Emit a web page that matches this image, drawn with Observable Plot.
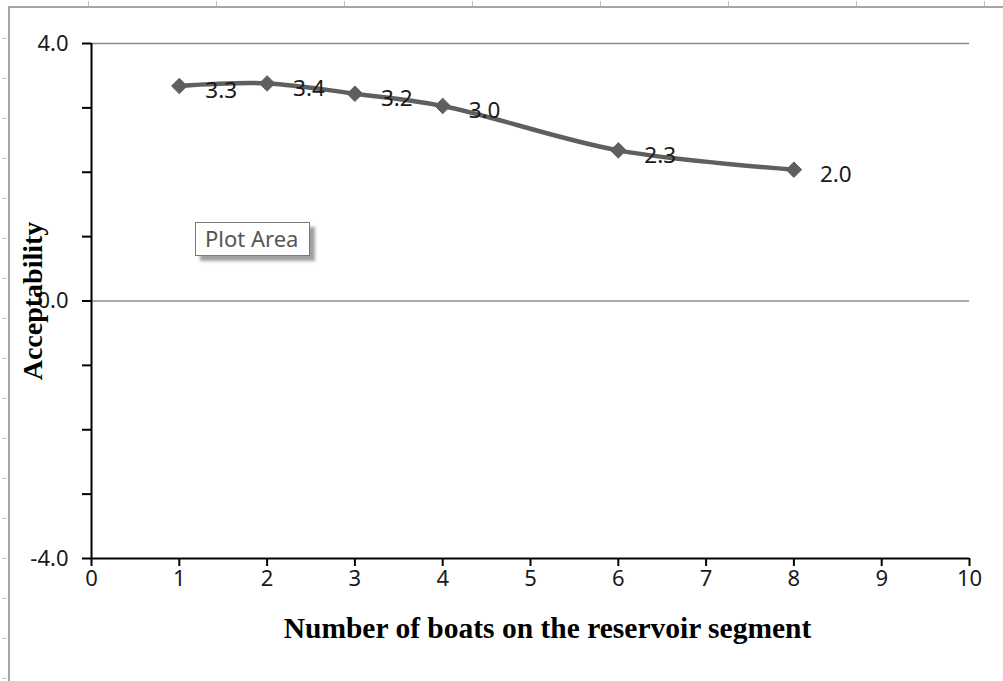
<!DOCTYPE html>
<html>
<head>
<meta charset="utf-8">
<script src="https://cdn.jsdelivr.net/npm/d3@7"></script>
<script src="https://cdn.jsdelivr.net/npm/@observablehq/plot@0.6"></script>
<style>
  html, body { margin: 0; padding: 0; background: #fff; }
  #wrap { position: relative; width: 1003px; height: 681px; overflow: hidden; }
  #frameTop { position: absolute; left: 9px; top: 6px; width: 994px; height: 2px; background: #a6a6a6; }
  #frameTopTicks { position: absolute; left: 88px; top: 1px; width: 915px; height: 5px;
    background: repeating-linear-gradient(to right, #c0c0c0 0 1px, transparent 1px 128px); }
  #frameLeft { position: absolute; left: 8px; top: 6px; width: 2px; height: 675px; background: #a6a6a6; }
  #frameLeftTicks { position: absolute; left: 2px; top: 38px; width: 5px; height: 643px;
    background: repeating-linear-gradient(to bottom, #c8c8c8 0 1px, transparent 1px 40px); }
  #chart { position: absolute; left: 0; top: 0; }
  #tip { position: absolute; left: 195px; top: 222px; width: 115px; height: 34px; box-sizing: border-box;
    border: 1px solid #7a7a7a; background: #fff; box-shadow: 5px 5px 3px #a0a0a0;
    font: 22px "Noto Sans", "Open Sans", sans-serif; color: #555; line-height: 31px; padding-left: 9px; white-space: nowrap; }
</style>
</head>
<body>
<div id="wrap">
  <div id="frameTop"></div>
  <div id="frameTopTicks"></div>
  <div id="frameLeft"></div>
  <div id="frameLeftTicks"></div>
  <div id="chart"></div>
  <div id="tip">Plot Area</div>
</div>
<script>
// Data
const boats = [1, 2, 3, 4, 6, 8];
const acceptability = [3.34, 3.38, 3.22, 3.03, 2.34, 2.04];
const xTicks = [0, 1, 2, 3, 4, 5, 6, 7, 8, 9, 10];
const yTicks = [-4, -3, -2, -1, 0, 1, 2, 3, 4];
const yLabelled = [-4, 0, 4];
const xTitle = "Number of boats on the reservoir segment";
const yTitle = "Acceptability";

const data = boats.map((b, i) => ({x: b, y: acceptability[i]}));
const serif = "'Liberation Serif', 'Times New Roman', serif";
const sans = "'Noto Sans', 'Open Sans', sans-serif";

const chart = Plot.plot({
  width: 1003,
  height: 681,
  marginLeft: 91,
  marginRight: 34,
  marginTop: 43,
  marginBottom: 123,
  style: {fontFamily: sans, fontSize: "22px", color: "#1a1a1a", background: "transparent"},
  x: {domain: [0, 10]},
  y: {domain: [-4, 4]},
  marks: [
    Plot.ruleY([4, 0], {stroke: "#8c8c8c", strokeWidth: 1.5}),
    Plot.axisX({ticks: xTicks, tickSize: 8, tickPadding: 4, tickFormat: d => String(d),
      stroke: "#000", strokeWidth: 2, label: null, fontSize: 22}),
    Plot.axisY({ticks: yTicks, tickSize: 9, tickPadding: 14,
      tickFormat: d => yLabelled.includes(d) ? d.toFixed(1) : "",
      stroke: "#000", strokeWidth: 2, label: null, fontSize: 22}),
    Plot.ruleX([0], {stroke: "#000", strokeWidth: 2}),
    Plot.ruleY([-4], {stroke: "#000", strokeWidth: 2}),
    Plot.line(data, {x: "x", y: "y", curve: "catmull-rom", stroke: "#5f5f5f", strokeWidth: 4.5}),
    Plot.dot(data, {x: "x", y: "y", symbol: "diamond2", r: 7, fill: "#5f5f5f", stroke: "#5f5f5f", strokeWidth: 1}),
    Plot.text(data, {x: "x", y: "y", text: d => d.y.toFixed(1), textAnchor: "start", dx: 26, dy: 5,
      fontSize: 22.5, fill: "#1a1a1a", fontFamily: sans}),
    Plot.text([xTitle], {frameAnchor: "bottom", textAnchor: "middle", lineAnchor: "middle", dy: 70, dx: 17,
      fontSize: 29.5, fontWeight: "bold", fontFamily: serif, fill: "#000"}),
    Plot.text([yTitle], {frameAnchor: "left", textAnchor: "middle", lineAnchor: "middle", dx: -58, rotate: -90,
      fontSize: 28, fontWeight: "bold", fontFamily: serif, fill: "#000"})
  ]
});
document.getElementById("chart").appendChild(chart);
</script>
</body>
</html>
